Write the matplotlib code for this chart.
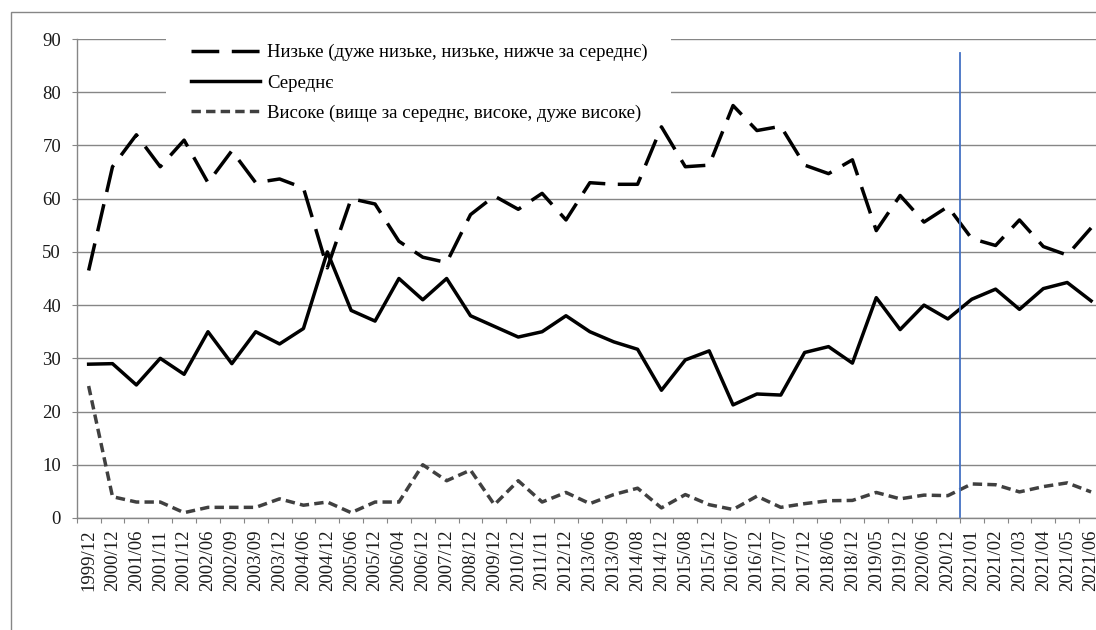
import matplotlib
matplotlib.use('Agg')
from matplotlib import pyplot as plt
from matplotlib.patches import Rectangle

dates = ['1999/12', '2000/12', '2001/06', '2001/11', '2001/12', '2002/06', '2002/09',
         '2003/09', '2003/12', '2004/06', '2004/12', '2005/06', '2005/12', '2006/04',
         '2006/12', '2007/12', '2008/12', '2009/12', '2010/12', '2011/11', '2012/12',
         '2013/06', '2013/09', '2014/08', '2014/12', '2015/08', '2015/12', '2016/07',
         '2016/12', '2017/07', '2017/12', '2018/06', '2018/12', '2019/05', '2019/12',
         '2020/06', '2020/12', '2021/01', '2021/02', '2021/03', '2021/04', '2021/05',
         '2021/06']

low = [46.5, 66, 72, 66, 71, 63, 69, 63, 63.7, 62, 47, 60, 59, 52, 49, 48, 57, 60.5,
       58, 61, 56, 63, 62.7, 62.7, 73.5, 66, 66.3, 77.5, 72.8, 73.6, 66.3, 64.7, 67.3,
       54, 60.6, 55.6, 58.5, 52.5, 51.2, 56, 51, 49.4, 54.5]
mid = [28.9, 29, 25, 30, 27, 35, 29, 35, 32.7, 35.6, 50, 39, 37, 45, 41, 45, 38, 36,
       34, 35, 38, 35, 33.1, 31.7, 24, 29.7, 31.4, 21.25, 23.3, 23.1, 31.1, 32.2, 29.1,
       41.4, 35.4, 40, 37.4, 41.1, 43, 39.2, 43.1, 44.25, 40.8]
high = [24.8, 4, 3, 3, 1, 2, 2, 2, 3.6, 2.4, 3, 1, 3, 3, 10, 7, 9, 2.5, 7, 3, 4.8, 2.7,
        4.4, 5.6, 1.9, 4.4, 2.5, 1.6, 4.1, 2, 2.7, 3.25, 3.3, 4.8, 3.6, 4.3, 4.2, 6.4,
        6.25, 4.9, 5.9, 6.6, 4.9]

labels = ['Низьке (дуже низьке, низьке, нижче за середнє)',
          'Середнє',
          'Високе (вище за середнє, високе, дуже високе)']

# vertical marker drawn after this period
divider_after = '2020/12'
divider_span = (0.25, 87.3)

W, H = 1096, 630
grey = '#868686'

plt.rcParams['font.family'] = ['Liberation Serif', 'DejaVu Serif']
plt.rcParams['font.size'] = 13.5

fig = plt.figure(figsize=(W / 100, H / 100), dpi=100)
ax = fig.add_axes([76.7 / W, 112 / H, (1103 - 76.7) / W, 479 / H])

x = list(range(len(dates)))
l1, = ax.plot(x, low, color='black', lw=2.5, dashes=(8, 3.6),
              dash_capstyle='butt', label=labels[0])
l2, = ax.plot(x, mid, color='black', lw=2.5, label=labels[1])
l3, = ax.plot(x, high, color='#404040', lw=2.5, dashes=(2.7, 1.5),
              dash_capstyle='butt', label=labels[2])

xd = dates.index(divider_after) + 0.5
ax.plot([xd, xd], divider_span, color='#4472C4', lw=1.3, zorder=3)

ax.set_axisbelow(True)
ax.yaxis.grid(True, color=grey, lw=1.0)

ax.set_xticks(x)
ax.set_xticklabels(dates, rotation=90)
ax.set_xticks([i - 0.5 for i in range(len(dates) + 1)], minor=True)
ax.tick_params(axis='x', which='major', length=0, pad=8.5)
ax.tick_params(axis='x', which='minor', length=3.6, width=0.8)
ax.set_yticks(range(0, 91, 10))
ax.tick_params(axis='y', length=3.6, pad=7.7, width=0.8)
ax.tick_params(which='both', color=grey, labelcolor='#1a1a1a')

for side in ['top', 'right']:
    ax.spines[side].set_visible(False)
for side in ['left', 'bottom']:
    ax.spines[side].set_color(grey)
    ax.spines[side].set_linewidth(1.0)

# white area behind the legend hides the gridlines
ax.add_patch(Rectangle((166 / W, 1 - 128 / H), (671 - 166) / W, 100 / H,
                       transform=fig.transFigure, facecolor='white',
                       edgecolor='none', zorder=1))
ax.set_xlim(-0.5, len(dates) - 0.5)
ax.set_ylim(0, 90)

ax.legend(handles=[l1, l2, l3], loc='upper left',
          bbox_to_anchor=(190.7 / W, 1 - 44 / H), bbox_transform=fig.transFigure,
          frameon=False, borderpad=0, borderaxespad=0, handlelength=3.7,
          handletextpad=0.37, labelspacing=0.7, fontsize=13.5)

# chart area border (cut off at right and bottom)
fig.add_artist(Rectangle((11 / W, -0.1), 2, 1.1 - 12 / H, transform=fig.transFigure,
                         fill=False, edgecolor=grey, lw=1.0))

fig.savefig('out.png', dpi=100)
